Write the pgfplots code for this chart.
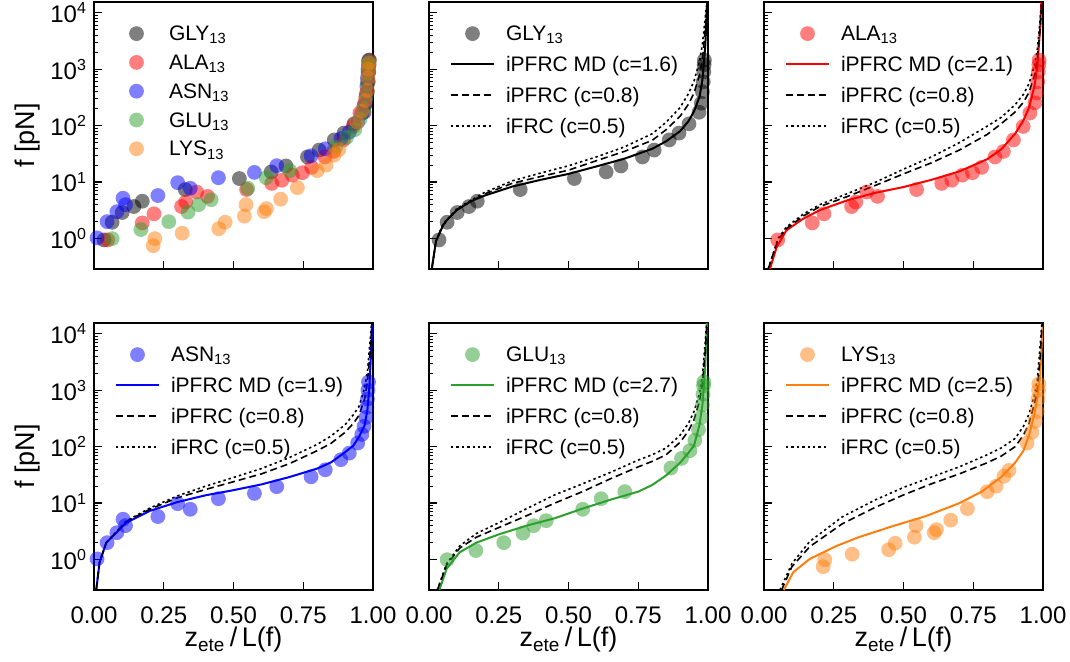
\documentclass[border=0pt]{standalone}
\usepackage{fontspec}
\setmainfont{Liberation Sans}
\usepackage{pgfplots}
\usepackage{pgfplotstable}
\pgfplotsset{compat=1.18}
\definecolor{tabgreen}{HTML}{2CA02C}
\definecolor{taborange}{HTML}{FF7F0E}

% ---------------- data points ----------------
\pgfplotstableread{
x y
0.036 0.95
0.065 1.95
0.101 2.9
0.143 3.7
0.173 4.6
0.327 7.4
0.521 11.6
0.635 15.2
0.688 19.4
0.765 28
0.807 37
0.861 56
0.896 74
0.932 108
0.968 173
0.976 250
0.980 400
0.983 600
0.985 900
0.986 1200
0.987 1450
}\glydata
\pgfplotstableread{
x y
0.049 0.95
0.173 1.9
0.215 2.75
0.314 3.7
0.329 4.45
0.368 6.7
0.407 5.6
0.547 7.4
0.637 9.5
0.673 10.8
0.711 13.3
0.747 14.7
0.780 18.3
0.828 28
0.858 35
0.894 56
0.929 97
0.953 168
0.971 254
0.977 380
0.981 600
0.983 900
0.985 1200
0.986 1450
}\aladata
\pgfplotstableread{
x y
0.011 1.03
0.047 2.0
0.082 3.0
0.104 5.2
0.113 4.0
0.229 5.8
0.300 9.8
0.345 7.8
0.446 12
0.575 14.9
0.655 19.6
0.778 29.3
0.829 39
0.885 59
0.915 77
0.945 116
0.960 165
0.968 230
0.975 330
0.978 500
0.980 700
0.982 1000
0.984 1400
}\asndata
\pgfplotstableread{
x y
0.065 1.0
0.168 1.45
0.268 2.0
0.337 2.95
0.375 4.0
0.420 4.9
0.551 7.8
0.617 12
0.702 16
0.867 42
0.905 62
0.935 85
0.953 130
0.966 200
0.975 330
0.980 550
0.982 850
0.984 1200
0.985 1400
}\gludata
\pgfplotstableread{
x y
0.212 0.75
0.218 1.0
0.316 1.25
0.447 1.5
0.470 1.95
0.539 2.5
0.545 4.0
0.610 3.0
0.618 3.4
0.669 5.0
0.729 8.0
0.800 16
0.832 20
0.860 30
0.878 38
0.943 116
0.960 180
0.972 280
0.979 420
0.982 700
0.984 1000
0.985 1300
}\lysdata

% ---------------- model curves ----------------
\pgfplotstableread{
x y
0.010 0.29
0.025 0.9
0.050 1.7
0.063 2.1
0.100 3.2
0.150 4.6
0.200 5.8
0.300 8.4
0.400 11
0.500 14
0.600 19
0.700 26
0.800 39
0.850 53
0.900 80
0.930 120
0.950 180
0.970 330
0.980 650
0.990 2500
0.995 8000
0.997 15500
}\glymd
\pgfplotstableread{
x y
0.010 0.29
0.025 0.9
0.050 1.75
0.100 3.3
0.200 6.2
0.300 9.6
0.400 12.6
0.500 16.3
0.600 24
0.700 35
0.800 55
0.850 85
0.900 147
0.930 240
0.950 380
0.970 800
0.980 1500
0.990 5000
0.997 15500
}\glyb
\pgfplotstableread{
x y
0.010 0.29
0.025 0.92
0.050 1.8
0.100 3.4
0.200 6.6
0.300 10.6
0.400 14.5
0.500 19.5
0.600 28
0.700 42
0.800 72
0.850 115
0.900 210
0.930 370
0.950 620
0.970 1400
0.980 2800
0.990 8000
0.996 15500
}\glyc
\pgfplotstableread{
x y
0.021 0.29
0.045 0.7
0.080 1.4
0.140 2.25
0.200 3.2
0.300 4.8
0.400 6.5
0.500 8.2
0.600 11
0.700 15.5
0.800 25.5
0.850 38
0.900 72
0.930 125
0.950 210
0.970 520
0.980 1150
0.990 5500
0.994 15500
}\alamd
\pgfplotstableread{
x y
0.015 0.29
0.050 0.95
0.080 1.5
0.140 2.5
0.200 3.7
0.300 5.6
0.400 8.8
0.500 14
0.600 22
0.700 37
0.800 70
0.850 108
0.900 175
0.930 260
0.950 390
0.970 800
0.980 1600
0.990 5500
0.996 15500
}\alab
\pgfplotstableread{
x y
0.015 0.29
0.050 1.0
0.080 1.6
0.140 2.7
0.200 4.0
0.300 6.3
0.400 10
0.500 17
0.600 28
0.700 50
0.800 98
0.850 140
0.900 235
0.930 360
0.950 560
0.970 1200
0.980 2300
0.990 8000
0.995 15500
}\alac
\pgfplotstableread{
x y
0.008 0.29
0.020 0.9
0.044 2.0
0.080 3.0
0.115 4.5
0.200 7.3
0.300 10.5
0.400 13.8
0.500 17
0.600 21.5
0.700 29
0.800 41
0.850 53
0.900 80
0.930 105
0.950 150
0.970 240
0.980 450
0.987 1150
0.993 4500
0.997 15500
}\asnmd
\pgfplotstableread{
x y
0.008 0.29
0.020 0.9
0.044 2.0
0.080 3.1
0.115 4.7
0.200 7.8
0.300 12.5
0.400 17.5
0.500 24
0.600 33
0.700 50
0.800 85
0.850 115
0.900 180
0.930 260
0.950 360
0.970 700
0.980 1400
0.990 5000
0.997 15500
}\asnb
\pgfplotstableread{
x y
0.008 0.29
0.020 0.9
0.044 2.0
0.080 3.1
0.115 4.8
0.200 8.2
0.300 13.5
0.400 20
0.500 28.5
0.600 41
0.700 64
0.800 110
0.850 155
0.900 245
0.930 370
0.950 520
0.970 1100
0.980 2100
0.990 8000
0.995 15500
}\asnc
\pgfplotstableread{
x y
0.037 0.29
0.063 0.69
0.110 1.35
0.170 2.0
0.250 2.8
0.350 4.0
0.450 5.4
0.550 8.0
0.650 11.5
0.750 16
0.800 21
0.850 31
0.900 52
0.930 78
0.950 105
0.970 250
0.980 550
0.990 2500
0.996 15500
}\glumd
\pgfplotstableread{
x y
0.030 0.29
0.063 0.8
0.110 1.6
0.170 2.5
0.250 3.7
0.350 6.0
0.450 10
0.550 16
0.650 27
0.750 44
0.800 55
0.850 72
0.900 120
0.930 190
0.950 300
0.970 650
0.980 1300
0.990 5000
0.997 15500
}\glub
\pgfplotstableread{
x y
0.030 0.29
0.063 0.85
0.110 1.75
0.170 2.9
0.250 4.5
0.350 8.0
0.450 14
0.550 22
0.650 35
0.750 58
0.800 72
0.850 95
0.900 160
0.930 260
0.950 420
0.970 900
0.980 1800
0.990 7000
0.995 15500
}\gluc
\pgfplotstableread{
x y
0.071 0.29
0.105 0.6
0.164 1.03
0.260 1.75
0.340 2.5
0.460 3.9
0.580 5.9
0.700 10
0.780 16
0.850 29
0.900 52
0.930 85
0.950 160
0.970 400
0.980 750
0.990 1800
0.996 8000
0.998 15500
}\lysmd
\pgfplotstableread{
x y
0.063 0.29
0.100 0.75
0.164 1.7
0.280 4.3
0.400 8.5
0.500 14
0.600 22
0.700 33
0.800 52
0.850 68
0.900 100
0.930 160
0.950 260
0.970 600
0.980 1100
0.990 4000
0.997 15500
}\lysb
\pgfplotstableread{
x y
0.057 0.29
0.100 0.85
0.164 2.1
0.280 5.7
0.400 11.5
0.500 19
0.600 29
0.700 44
0.800 72
0.850 95
0.900 140
0.930 230
0.950 380
0.970 850
0.980 1600
0.990 6500
0.996 15500
}\lysc

\pgfplotsset{
  commonax/.style={scale only axis, width=139.5pt, height=133.5pt,
    xmin=0, xmax=1, ymin=0.29, ymax=15500,
    axis line style={line width=1.4pt},
    tick align=inside, tick pos=left,
    major tick length=3.8pt, minor tick length=2pt,
    every tick/.style={black, line width=0.7pt},
    every minor tick/.style={black, line width=0.5pt},
    xtick={0,0.25,0.5,0.75,1},
    ytick={1,10,100,1000,10000},
    tick label style={font=\fontsize{12}{14}\selectfont},
    legend cell align=left,
    legend image code/.code={\path[draw=none,fill=none] (0pt,0pt) (21.5pt,0pt);
      \draw[mark repeat=2,mark phase=2,##1] plot coordinates {(0pt,0pt) (10.75pt,0pt) (21.5pt,0pt)};},
    legend style={draw=none, fill=none, at={(axis description cs:0,1)}, anchor=north west,
      xshift=10.5pt, yshift=-10.3pt, inner sep=0pt, outer sep=0pt,
      column sep=5.5pt, row sep=4.4pt, font=\fontsize{10.5}{12}\selectfont,
      nodes={inner sep=0pt, text height=9pt, text depth=2pt}}},
  bottomrow/.style={xticklabels={0.00,0.25,0.50,0.75,1.00},
    xticklabel style={yshift=-5pt},
    xlabel={z\textsubscript{ete}\,/\,L(f)},
    xlabel style={font=\fontsize{13.5}{15}\selectfont, at={(axis description cs:0.5,-0.213)}, anchor=base}},
  toprow/.style={xticklabels={}},
  leftcol/.style={yticklabels={10\textsuperscript{0},10\textsuperscript{1},10\textsuperscript{2},10\textsuperscript{3},10\textsuperscript{4}},
    ylabel={f [pN]},
    ylabel style={font=\fontsize{13.5}{15}\selectfont, at={(axis description cs:-0.2366,0.5)}, anchor=center}},
  rightcols/.style={yticklabels={}},
  datmark/.style={only marks, mark=*, mark size=3.7pt, mark options={draw opacity=0, fill=#1, fill opacity=0.5}},
  mdline/.style={#1, line width=1pt, no marks},
  dashline/.style={black, line width=0.8pt, dash pattern=on 3.5pt off 2pt, no marks},
  dotline/.style={black, line width=0.8pt, dash pattern=on 1.2pt off 1.5pt, no marks},
}

\begin{document}
\begin{tikzpicture}
% top-left
\begin{axis}[ymode=log, commonax, toprow, leftcol, at={(47pt,196pt)}, anchor=south west,
  legend style={row sep=3.4pt}]
\addplot[datmark=black] table {\glydata}; \addlegendentry{GLY\textsubscript{13}}
\addplot[datmark=red] table {\aladata}; \addlegendentry{ALA\textsubscript{13}}
\addplot[datmark=blue] table {\asndata}; \addlegendentry{ASN\textsubscript{13}}
\addplot[datmark=tabgreen] table {\gludata}; \addlegendentry{GLU\textsubscript{13}}
\addplot[datmark=taborange] table {\lysdata}; \addlegendentry{LYS\textsubscript{13}}
\end{axis}
% top-middle
\begin{axis}[ymode=log, commonax, toprow, rightcols, at={(214.5pt,196pt)}, anchor=south west]
\addplot[datmark=black] table {\glydata}; \addlegendentry{GLY\textsubscript{13}}
\addplot[mdline=black] table {\glymd}; \addlegendentry{iPFRC MD (c=1.6)}
\addplot[dashline] table {\glyb}; \addlegendentry{iPFRC (c=0.8)}
\addplot[dotline] table {\glyc}; \addlegendentry{iFRC (c=0.5)}
\end{axis}
% top-right
\begin{axis}[ymode=log, commonax, toprow, rightcols, at={(382pt,196pt)}, anchor=south west]
\addplot[datmark=red] table {\aladata}; \addlegendentry{ALA\textsubscript{13}}
\addplot[mdline=red] table {\alamd}; \addlegendentry{iPFRC MD (c=2.1)}
\addplot[dashline] table {\alab}; \addlegendentry{iPFRC (c=0.8)}
\addplot[dotline] table {\alac}; \addlegendentry{iFRC (c=0.5)}
\end{axis}
% bottom-left
\begin{axis}[ymode=log, commonax, bottomrow, leftcol, at={(47pt,35.5pt)}, anchor=south west]
\addplot[datmark=blue] table {\asndata}; \addlegendentry{ASN\textsubscript{13}}
\addplot[mdline=blue] table {\asnmd}; \addlegendentry{iPFRC MD (c=1.9)}
\addplot[dashline] table {\asnb}; \addlegendentry{iPFRC (c=0.8)}
\addplot[dotline] table {\asnc}; \addlegendentry{iFRC (c=0.5)}
\end{axis}
% bottom-middle
\begin{axis}[ymode=log, commonax, bottomrow, rightcols, at={(214.5pt,35.5pt)}, anchor=south west]
\addplot[datmark=tabgreen] table {\gludata}; \addlegendentry{GLU\textsubscript{13}}
\addplot[mdline=tabgreen] table {\glumd}; \addlegendentry{iPFRC MD (c=2.7)}
\addplot[dashline] table {\glub}; \addlegendentry{iPFRC (c=0.8)}
\addplot[dotline] table {\gluc}; \addlegendentry{iFRC (c=0.5)}
\end{axis}
% bottom-right
\begin{axis}[ymode=log, commonax, bottomrow, rightcols, at={(382pt,35.5pt)}, anchor=south west]
\addplot[datmark=taborange] table {\lysdata}; \addlegendentry{LYS\textsubscript{13}}
\addplot[mdline=taborange] table {\lysmd}; \addlegendentry{iPFRC MD (c=2.5)}
\addplot[dashline] table {\lysb}; \addlegendentry{iPFRC (c=0.8)}
\addplot[dotline] table {\lysc}; \addlegendentry{iFRC (c=0.5)}
\end{axis}
\pgfresetboundingbox
\useasboundingbox (0pt,0pt) rectangle (535pt,330.5pt);
\end{tikzpicture}
\end{document}
